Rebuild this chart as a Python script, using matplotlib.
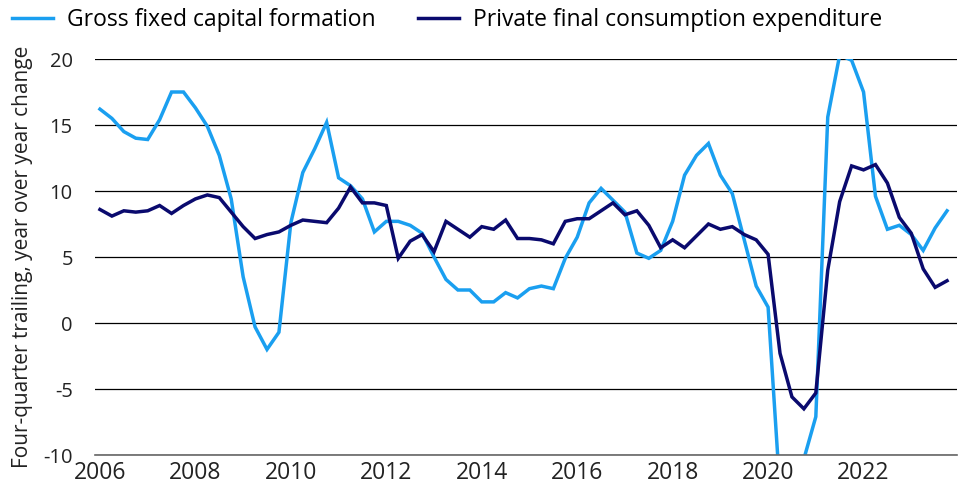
import numpy as np
import matplotlib
matplotlib.use("Agg")
import matplotlib.pyplot as plt

plt.rcParams['font.family'] = ['Open Sans', 'DejaVu Sans']

# quarterly, 2006Q1 .. 2023Q4
start_year = 2006
gfcf = [16.2, 15.5, 14.5, 14.0, 13.9, 15.4, 17.5, 17.5,
        16.3, 14.9, 12.7, 9.4, 3.5, -0.3, -2.0, -0.7,
        7.6, 11.4, 13.2, 15.2, 11.0, 10.4, 9.4, 6.9,
        7.7, 7.7, 7.4, 6.8, 5.0, 3.3, 2.5, 2.5,
        1.6, 1.6, 2.3, 1.9, 2.6, 2.8, 2.6, 4.9,
        6.5, 9.1, 10.2, 9.3, 8.4, 5.3, 4.9, 5.5,
        7.7, 11.2, 12.7, 13.6, 11.2, 9.8, 6.3, 2.8,
        1.2, -12.8, -15.5, -10.3, -7.1, 15.6, 20.3, 19.9,
        17.5, 9.6, 7.1, 7.4, 6.7, 5.5, 7.2, 8.5]
pfce = [8.6, 8.1, 8.5, 8.4, 8.5, 8.9, 8.3, 8.9,
        9.4, 9.7, 9.5, 8.4, 7.3, 6.4, 6.7, 6.9,
        7.4, 7.8, 7.7, 7.6, 8.7, 10.3, 9.1, 9.1,
        8.9, 4.9, 6.2, 6.7, 5.4, 7.7, 7.1, 6.5,
        7.3, 7.1, 7.8, 6.4, 6.4, 6.3, 6.0, 7.7,
        7.9, 7.9, 8.5, 9.1, 8.2, 8.5, 7.4, 5.7,
        6.3, 5.7, 6.6, 7.5, 7.1, 7.3, 6.7, 6.3,
        5.2, -2.3, -5.6, -6.5, -5.3, 4.0, 9.2, 11.9,
        11.6, 12.0, 10.6, 8.0, 6.8, 4.1, 2.7, 3.2]
labels = ["Gross fixed capital formation", "Private final consumption expenditure"]
colors = ["#1A9FF0", "#0A0A6E"]
year_ticks = list(range(2006, 2024, 2))
y_ticks = [-10, -5, 0, 5, 10, 15, 20]

x = start_year + np.arange(len(gfcf)) / 4.0

fig = plt.figure(figsize=(9.64, 4.86), dpi=100)
ax = fig.add_axes([95 / 964, 1 - 455 / 486, (957 - 95) / 964, (455 - 59) / 486])

ax.plot(x, gfcf, color=colors[0], lw=2.5, label=labels[0], solid_joinstyle="miter")
ax.plot(x, pfce, color=colors[1], lw=2.5, label=labels[1], solid_joinstyle="miter")

ax.set_ylim(-10, 20)
ax.set_xlim(start_year - 5 / 48, start_year + 862 / 48)
ax.set_yticks(y_ticks)
ax.set_yticklabels([str(v) for v in y_ticks])
ax.set_xticks(year_ticks)
ax.set_xticklabels([str(v) for v in year_ticks])
ax.yaxis.grid(True, color="black", lw=0.9)
ax.set_axisbelow(True)
for s in ("top", "right", "left"):
    ax.spines[s].set_visible(False)
ax.spines["bottom"].set_color("#666666")
ax.spines["bottom"].set_linewidth(1.2)
ax.tick_params(axis="x", length=0, pad=4, labelsize=16.5, colors="#222222")
ax.tick_params(axis="y", length=0, pad=16, labelsize=14.5, colors="#222222")
ax.set_ylabel("Four-quarter trailing, year over year change", fontsize=15, color="#222222")
ax.yaxis.set_label_coords(-(95 - 33) / 862, 0.5)

fig.legend(loc="center left", bbox_to_anchor=(12 / 964, 1 - 20 / 486), ncol=2,
           frameon=False, fontsize=16.5, handlelength=1.8, handletextpad=0.6,
           columnspacing=1.85, borderpad=0, borderaxespad=0)

fig.savefig("out.png", dpi=100)
